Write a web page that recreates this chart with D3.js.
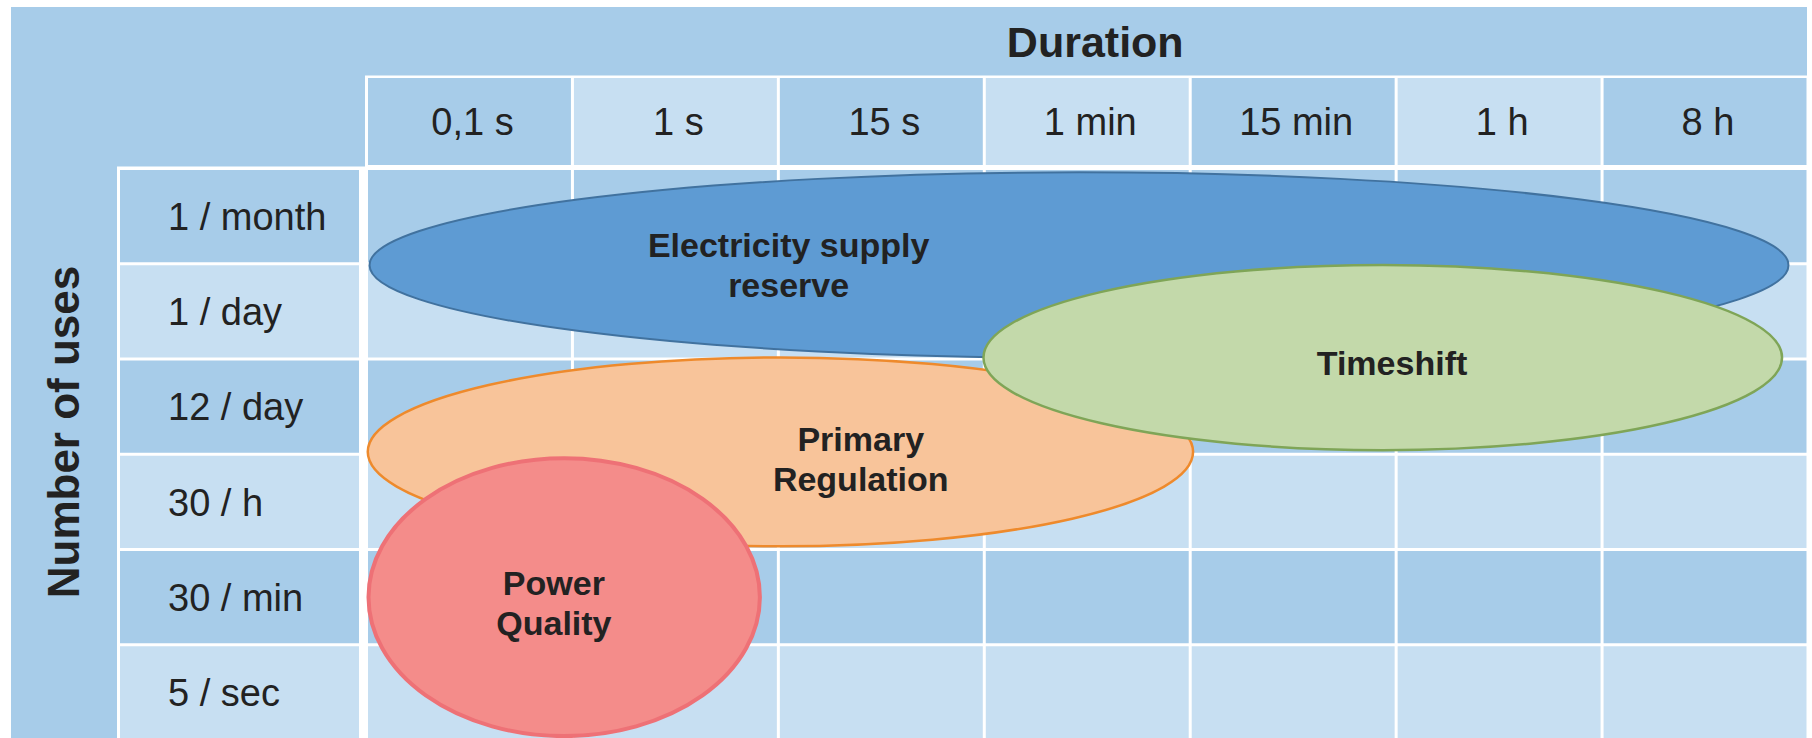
<!DOCTYPE html>
<html>
<head>
<meta charset="utf-8">
<script src="https://cdn.jsdelivr.net/npm/d3@7"></script>
<style>
  html, body { margin: 0; padding: 0; background: #ffffff; }
  svg { display: block; }
  text { font-family: "Liberation Sans", Arial, Helvetica, sans-serif; fill: #222222; }
</style>
</head>
<body>
<svg id="chart" width="1812" height="738"></svg>
<script>
// Duration categories (columns) and number-of-uses categories (rows)
const durations = ["0,1 s", "1 s", "15 s", "1 min", "15 min", "1 h", "8 h"];
const frequencies = ["1 / month", "1 / day", "12 / day", "30 / h", "30 / min", "5 / sec"];

// Storage applications, in drawing order
const applications = ["Electricity supply reserve", "Primary Regulation", "Timeshift", "Power Quality"];
// Extent of each application, in column units (duration) and row units (number of uses)
const durFrom = [0.01, 0.00, 2.99, 0.00];
const durTo   = [6.91, 4.02, 6.88, 1.92];
const useFrom = [0.03, 1.97, 1.00, 3.02];
const useTo   = [2.00, 3.98, 2.97, 5.98];
// Label text and label anchor (column / row units)
const labelLines = [["Electricity supply", "reserve"], ["Primary", "Regulation"], ["Timeshift"], ["Power", "Quality"]];
const labelDur = [2.05, 2.40, 4.98, 0.91];
const labelUse = [1.01, 3.05, 2.04, 4.56];

const fills   = ["#5e9bd3", "#f8c49a", "#c3d9aa", "#f48c8a"];
const strokes = ["#41729f", "#ee8a2c", "#7fa557", "#ee7176"];
const strokeW = [2, 2.5, 2.5, 4];

const svg = d3.select("#chart");

const x = d3.scaleLinear().domain([0, durations.length]).range([366.5, 1808]);
const y = d3.scaleLinear().domain([0, frequencies.length]).range([168.5, 740]);
const gap = 1.5;

const dark = "#a7cce9", light = "#c7dff2";

// Background panel
svg.append("rect").attr("x", 11).attr("y", 7).attr("width", 1796).attr("height", 740)
  .attr("fill", dark);

// White frames behind header cells and body cells
svg.append("rect").attr("x", 365).attr("y", 75.5).attr("width", 1443).attr("height", 93)
  .attr("fill", "#ffffff");
svg.append("rect").attr("x", 117).attr("y", 166.5).attr("width", 1691).attr("height", 580)
  .attr("fill", "#ffffff");

// Column header cells
const head = svg.append("g");
head.selectAll("rect").data(durations).join("rect")
  .attr("x", (d, i) => x(i) + gap)
  .attr("y", 78)
  .attr("width", (d, i) => x(i + 1) - x(i) - 2 * gap)
  .attr("height", 87)
  .attr("fill", (d, i) => i % 2 === 0 ? dark : light);
head.selectAll("text").data(durations).join("text")
  .attr("x", (d, i) => (x(i) + x(i + 1)) / 2 + 3)
  .attr("y", 121.5)
  .attr("dy", "0.36em")
  .attr("text-anchor", "middle")
  .style("font-size", "38px")
  .text(d => d);

// Row label cells
const rowsG = svg.append("g");
rowsG.selectAll("rect").data(frequencies).join("rect")
  .attr("x", 120)
  .attr("y", (d, i) => y(i) + gap)
  .attr("width", 239)
  .attr("height", (d, i) => y(i + 1) - y(i) - 2 * gap)
  .attr("fill", (d, i) => i % 2 === 0 ? dark : light);
rowsG.selectAll("text").data(frequencies).join("text")
  .attr("x", 168)
  .attr("y", (d, i) => (y(i) + y(i + 1)) / 2)
  .attr("dy", "0.36em")
  .style("font-size", "38px")
  .text(d => d);

// Body cells, shaded by row
const cells = [];
frequencies.forEach((f, r) => durations.forEach((d, c) => cells.push({ r, c })));
svg.append("g").selectAll("rect").data(cells).join("rect")
  .attr("x", d => x(d.c) + gap)
  .attr("y", d => y(d.r) + gap)
  .attr("width", d => x(d.c + 1) - x(d.c) - 2 * gap)
  .attr("height", d => y(d.r + 1) - y(d.r) - 2 * gap)
  .attr("fill", d => d.r % 2 === 0 ? dark : light);

// Axis titles
svg.append("text")
  .attr("x", (x(0) + x(durations.length)) / 2 + 8)
  .attr("y", 42)
  .attr("dy", "0.36em")
  .attr("text-anchor", "middle")
  .style("font-size", "43px").style("font-weight", "bold")
  .text("Duration");
svg.append("text")
  .attr("transform", "translate(63,432) rotate(-90)")
  .attr("dy", "0.36em")
  .attr("text-anchor", "middle")
  .style("font-size", "44px").style("font-weight", "bold")
  .text("Number of uses");

// Application ellipses
const apps = applications.map((name, i) => ({ name, i }));
svg.append("g").selectAll("ellipse").data(apps).join("ellipse")
  .attr("cx", d => (x(durFrom[d.i]) + x(durTo[d.i])) / 2)
  .attr("cy", d => (y(useFrom[d.i]) + y(useTo[d.i])) / 2)
  .attr("rx", d => (x(durTo[d.i]) - x(durFrom[d.i])) / 2 - strokeW[d.i] / 2)
  .attr("ry", d => (y(useTo[d.i]) - y(useFrom[d.i])) / 2 - strokeW[d.i] / 2)
  .attr("fill", d => fills[d.i])
  .attr("stroke", d => strokes[d.i])
  .attr("stroke-width", d => strokeW[d.i]);

// Application labels
const lineH = 40;
const lbl = svg.append("g").selectAll("text").data(apps).join("text")
  .attr("text-anchor", "middle")
  .style("font-size", "34px").style("font-weight", "bold")
  .attr("fill", "#1e1e1e");
lbl.each(function (d) {
  const lines = labelLines[d.i];
  const cx = x(labelDur[d.i]);
  const cy = y(labelUse[d.i]) - (lines.length - 1) * lineH / 2;
  d3.select(this).selectAll("tspan").data(lines).join("tspan")
    .attr("x", cx)
    .attr("y", (t, k) => cy + k * lineH)
    .attr("dy", "0.36em")
    .text(t => t);
});
</script>
</body>
</html>
